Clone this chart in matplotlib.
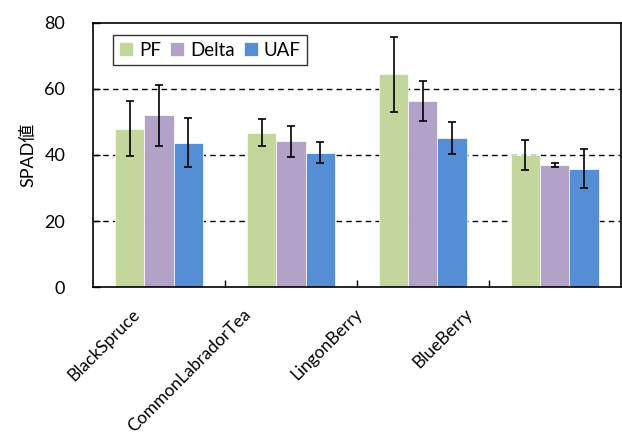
import numpy as np
import matplotlib
matplotlib.use("Agg")
import matplotlib.pyplot as plt

plt.rcParams["font.family"] = ["Lato", "Noto Sans CJK JP", "DejaVu Sans"]

# -------------------------
# Data
# -------------------------

species = ["BlackSpruce", "CommonLabradorTea", "LingonBerry", "BlueBerry"]
series = ["PF", "Delta", "UAF"]

pf = [48.0, 46.8, 64.4, 40.1]
delta = [52.0, 44.2, 56.4, 37.0]
uaf = [43.7, 40.7, 45.2, 35.9]

pf_err = [8.3, 4.2, 11.4, 4.5]
delta_err = [9.3, 4.7, 6.0, 0.6]
uaf_err = [7.4, 3.1, 4.9, 6.0]

colors = ["#C3D69B", "#B2A2C7", "#558ED5"]

# -------------------------
# Plot
# -------------------------

fig = plt.figure(figsize=(6.22, 4.36), dpi=100)
ax = fig.add_axes([0.1495, 0.341, 0.8485, 0.607])

x = np.arange(len(species))
w = 0.222

values = [pf, delta, uaf]
errors = [pf_err, delta_err, uaf_err]

for k in range(3):
    ax.bar(x + (k - 1) * w, values[k], w, color=colors[k], label=series[k],
           edgecolor="white", linewidth=0.5, zorder=2)
    ax.errorbar(x + (k - 1) * w, values[k], yerr=errors[k], fmt="none",
                ecolor="black", elinewidth=1.2, capsize=3, capthick=1.2, zorder=3)

ax.set_xlim(-0.5, 3.5)
ax.set_ylim(0, 80)
ax.set_yticks([0, 20, 40, 60, 80])
ax.tick_params(axis="y", direction="in", length=5, labelsize=13, width=1, pad=20)
ax.set_xticks([0.5, 1.5, 2.5])
ax.set_xticklabels([])
ax.tick_params(axis="x", direction="in", length=5, width=1)

for g in [20, 40, 60]:
    ax.axhline(g, color="black", linestyle=(0, (4, 3)), linewidth=1, zorder=1)

for s in ax.spines.values():
    s.set_linewidth(1.2)

ax.set_ylabel("SPAD値", fontsize=13, labelpad=6)

# rotated category labels
label_x = [-0.21, 0.63, 1.48, 2.31]
trans = matplotlib.transforms.blended_transform_factory(ax.transData, ax.transAxes)
for lx, name in zip(label_x, species):
    ax.text(lx, -0.07, name, transform=trans, rotation=45, ha="right", va="top",
            rotation_mode="anchor", fontsize=12.5)

leg = ax.legend(loc="upper left", bbox_to_anchor=(0.037, 0.953), ncol=3,
                fontsize=13.5, frameon=True, fancybox=False, handlelength=0.75,
                handleheight=0.75, handletextpad=0.3, columnspacing=0.5,
                borderpad=0.35, borderaxespad=0)
leg.get_frame().set_edgecolor("black")
leg.get_frame().set_linewidth(1)

fig.savefig("out.png", dpi=100)
